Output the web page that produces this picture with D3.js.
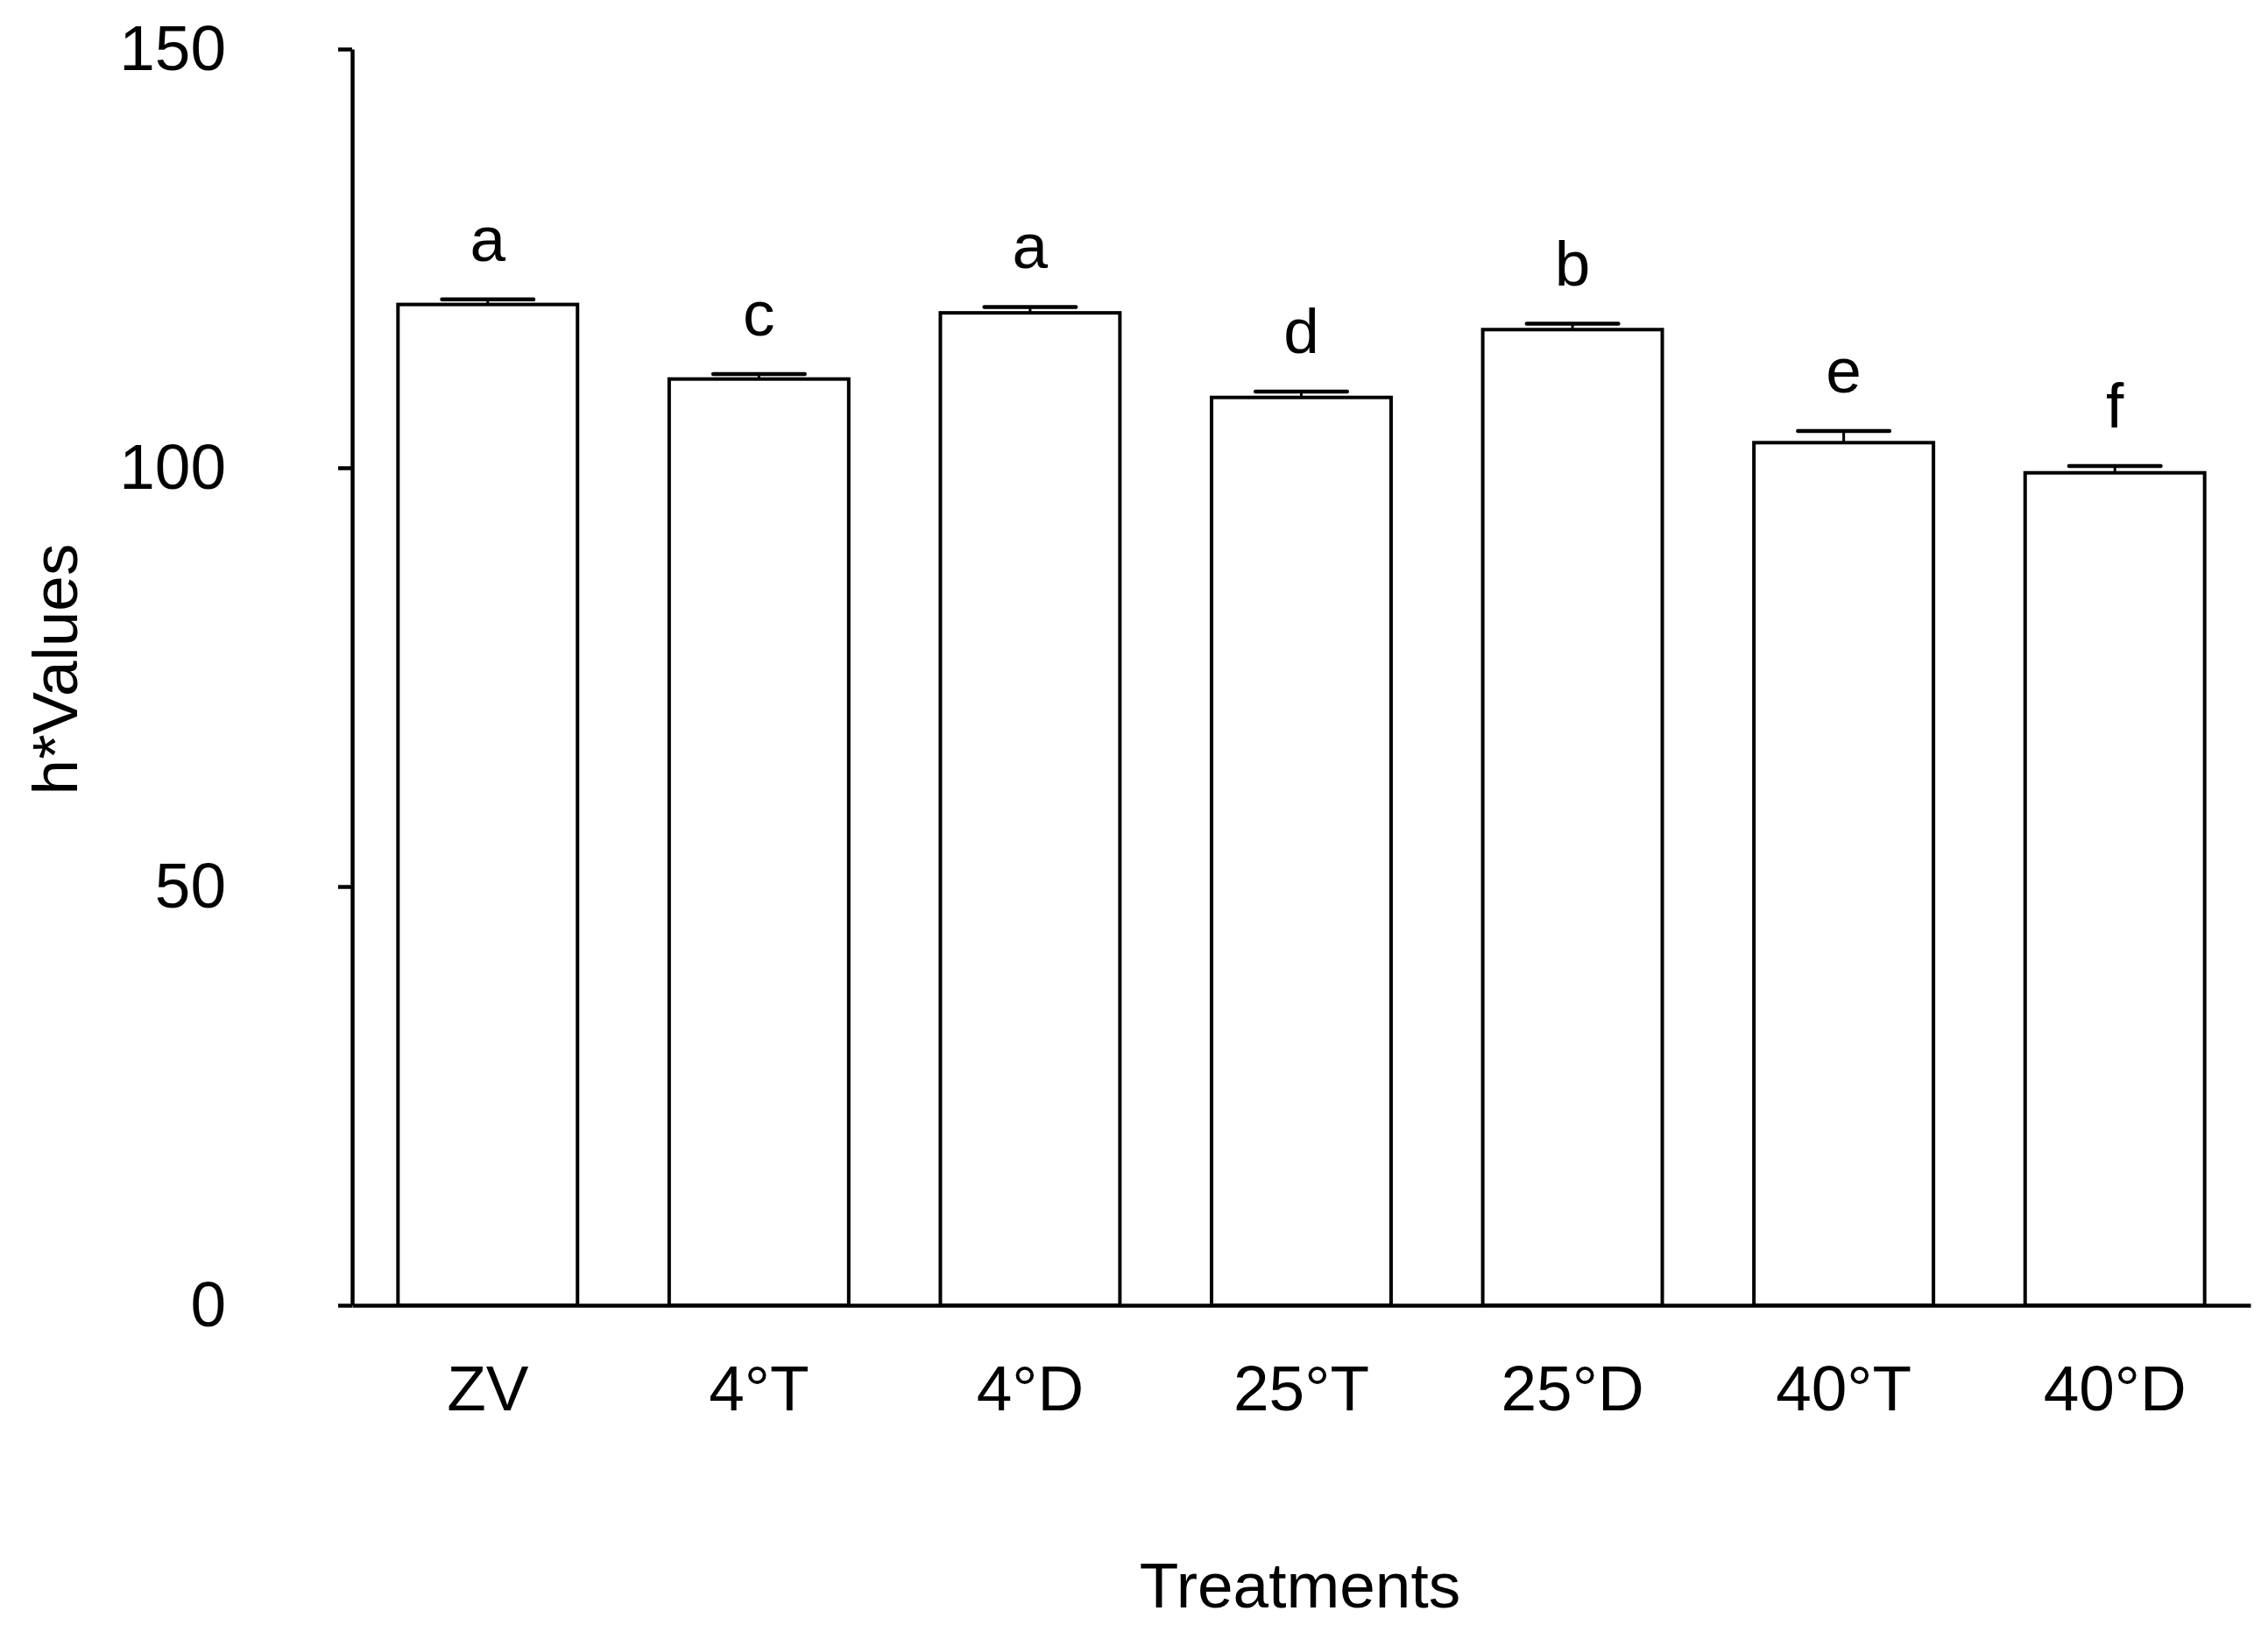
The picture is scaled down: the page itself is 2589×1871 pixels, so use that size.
<!DOCTYPE html>
<html>
<head>
<meta charset="utf-8">
<script src="https://cdn.jsdelivr.net/npm/d3@7"></script>
<style>
  html, body { margin: 0; padding: 0; background: #fff; }
  svg { display: block; }
  text { font-family: "Liberation Sans", Arial, sans-serif; fill: #000; }
</style>
</head>
<body>
<script>
const categories = ["ZV", "4°T", "4°D", "25°T", "25°D", "40°T", "40°D"];
const means = [119.5, 110.6, 118.5, 108.4, 116.5, 103.0, 99.4];
const errors = [0.6, 0.6, 0.7, 0.7, 0.7, 1.4, 0.8];
const letters = ["a", "c", "a", "d", "b", "e", "f"];
const yTicks = [0, 50, 100, 150];
const yTitle = "h*Values";
const xTitle = "Treatments";

const W = 2589, H = 1871;
const fontSize = 73;

const svg = d3.select("body").append("svg")
  .attr("width", W).attr("height", H)
  .attr("viewBox", `0 0 ${W} ${H}`);
svg.append("rect").attr("width", W).attr("height", H).attr("fill", "#fff");

const y = d3.scaleLinear().domain([0, 150]).range([1490, 56]);
const x = d3.scaleBand().domain(categories).range([402, 2569])
  .paddingInner(0.338).paddingOuter(0.169);

const data = categories.map((c, i) => ({ c, m: means[i], e: errors[i], l: letters[i] }));

// bars
svg.append("g").selectAll("rect").data(data).join("rect")
  .attr("x", d => x(d.c))
  .attr("y", d => y(d.m))
  .attr("width", x.bandwidth())
  .attr("height", d => y(0) - y(d.m))
  .attr("fill", "#fff")
  .attr("stroke", "#000")
  .attr("stroke-width", 4);

// error bars
const capW = x.bandwidth() * 0.51;
const eg = svg.append("g");
eg.selectAll("line.stem").data(data).join("line")
  .attr("class", "stem")
  .attr("x1", d => x(d.c) + x.bandwidth() / 2)
  .attr("x2", d => x(d.c) + x.bandwidth() / 2)
  .attr("y1", d => y(d.m))
  .attr("y2", d => y(d.m + d.e))
  .attr("stroke", "#000").attr("stroke-width", 3);
eg.selectAll("line.cap").data(data).join("line")
  .attr("class", "cap")
  .attr("x1", d => x(d.c) + x.bandwidth() / 2 - capW / 2)
  .attr("x2", d => x(d.c) + x.bandwidth() / 2 + capW / 2)
  .attr("y1", d => y(d.m + d.e))
  .attr("y2", d => y(d.m + d.e))
  .attr("stroke", "#000").attr("stroke-width", 4.5)
  .attr("stroke-linecap", "round");

// significance letters
svg.append("g").selectAll("text").data(data).join("text")
  .attr("x", d => x(d.c) + x.bandwidth() / 2)
  .attr("y", d => y(d.m + d.e) - 44)
  .attr("text-anchor", "middle")
  .attr("font-size", fontSize)
  .text(d => d.l);

// y axis
const yAxis = svg.append("g")
  .attr("transform", "translate(402,0)")
  .call(d3.axisLeft(y).tickValues(yTicks).tickSize(16).tickSizeOuter(0).tickPadding(128));
yAxis.select(".domain").attr("stroke-width", 4.5);
yAxis.selectAll(".tick line").attr("stroke-width", 4.5);
yAxis.selectAll(".tick text")
  .attr("font-size", fontSize)
  .attr("font-family", "Liberation Sans, Arial, sans-serif")
  .attr("fill", "#000");

// x axis
const xAxis = svg.append("g")
  .attr("transform", `translate(0,${y(0)})`)
  .call(d3.axisBottom(x).tickSize(0).tickSizeOuter(0).tickPadding(68));
xAxis.select(".domain").attr("stroke-width", 4.5);
xAxis.selectAll(".tick text")
  .attr("font-size", fontSize)
  .attr("font-family", "Liberation Sans, Arial, sans-serif")
  .attr("fill", "#000");

// axis titles
svg.append("text")
  .attr("transform", "translate(88,764) rotate(-90)")
  .attr("text-anchor", "middle")
  .attr("font-size", fontSize)
  .text(yTitle);

svg.append("text")
  .attr("x", 1484)
  .attr("y", 1835)
  .attr("text-anchor", "middle")
  .attr("font-size", fontSize)
  .text(xTitle);
</script>
</body>
</html>
